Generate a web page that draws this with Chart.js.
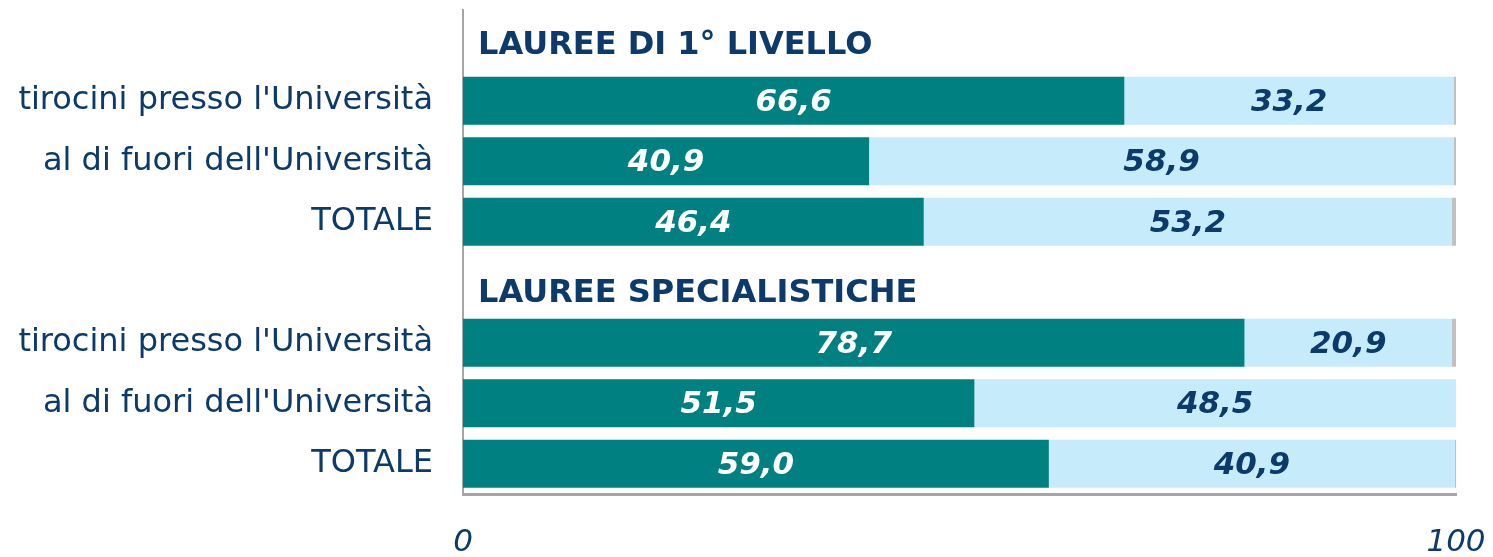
<!DOCTYPE html>
<html>
<head>
<meta charset="utf-8">
<script src="https://cdn.jsdelivr.net/npm/chart.js@4.4.1/dist/chart.umd.min.js"></script>
<style>
html,body{margin:0;padding:0;background:#fff;}
#wrap{width:1493px;height:557px;}
</style>
</head>
<body>
<div id="wrap"><canvas id="c" width="1493" height="557"></canvas></div>
<script>
const categories = ['', "tirocini presso l'Università", "al di fuori dell'Università", 'TOTALE',
                    '', "tirocini presso l'Università", "al di fuori dell'Università", 'TOTALE'];
const groupHeaders = ['LAUREE DI 1° LIVELLO', null, null, null, 'LAUREE SPECIALISTICHE', null, null, null];
const seriesA = [null, 66.6, 40.9, 46.4, null, 78.7, 51.5, 59.0];
const seriesB = [null, 33.2, 58.9, 53.2, null, 20.9, 48.5, 40.9];
const seriesMissing = [null, 0.2, 0.2, 0.4, null, 0.4, 0.0, 0.1];
const xTicks = [0, 100];

const TEXT = '#0B3A6B';
const FONT = "'DejaVu Sans', Verdana, sans-serif";

const fmt = v => v.toFixed(1).replace('.', ',');

const overlayPlugin = {
  id: 'overlay',
  afterDatasetsDraw(chart) {
    const ctx = chart.ctx;
    ctx.save();
    [0, 1].forEach(di => {
      const meta = chart.getDatasetMeta(di);
      const data = chart.data.datasets[di].data;
      meta.data.forEach((bar, i) => {
        const v = data[i];
        if (v === null || v === undefined) return;
        const p = bar.getProps(['x', 'base', 'y'], true);
        ctx.font = "italic bold 31px " + FONT;
        ctx.fillStyle = di === 0 ? '#ffffff' : TEXT;
        ctx.textAlign = 'center';
        ctx.textBaseline = 'middle';
        ctx.fillText(fmt(v), (p.x + p.base) / 2, p.y + 2);
      });
    });
    const ys = chart.scales.y;
    const xs = chart.scales.x;
    groupHeaders.forEach((h, i) => {
      if (!h) return;
      ctx.font = "bold 32px " + FONT;
      ctx.fillStyle = TEXT;
      ctx.textAlign = 'left';
      ctx.textBaseline = 'middle';
      ctx.fillText(h, xs.left + 15, ys.getPixelForValue(i) + (i === 0 ? 5 : 11));
    });
    ctx.restore();
  }
};

new Chart(document.getElementById('c'), {
  type: 'bar',
  data: {
    labels: categories,
    datasets: [
      { label: 'presso', data: seriesA, backgroundColor: '#008080', borderWidth: 0 },
      { label: 'fuori', data: seriesB, backgroundColor: '#C6ECFC', borderWidth: 0 },
      { label: 'mancanti', data: seriesMissing, backgroundColor: '#C0C0C0', borderWidth: 0 }
    ]
  },
  options: {
    indexAxis: 'y',
    responsive: false,
    animation: false,
    events: [],
    datasets: { bar: { barPercentage: 0.793, categoryPercentage: 1.0 } },
    layout: { padding: { left: 0, right: 37, top: 10, bottom: 0 } },
    plugins: { legend: { display: false }, tooltip: { enabled: false } },
    scales: {
      x: {
        stacked: true,
        min: 0, max: 100,
        afterBuildTicks: s => { s.ticks = xTicks.map(v => ({ value: v })); },
        grid: { display: false, drawTicks: false },
        border: { display: true, color: '#A6A6A6', width: 3 },
        ticks: { color: TEXT, font: { family: FONT, size: 31, style: 'italic' }, padding: 30, maxRotation: 0 },
        afterFit: s => { s.height = 557 - 494; s.paddingLeft = 0; s.paddingRight = 0; s.paddingTop = 0; s.paddingBottom = 0; }
      },
      y: {
        stacked: true,
        grid: { display: false, drawTicks: false },
        border: { display: true, color: '#A6A6A6', width: 2 },
        ticks: { color: TEXT, font: { family: FONT, size: 32 }, padding: 30, autoSkip: false },
        afterFit: s => { s.width = 463; s.paddingLeft = 0; s.paddingRight = 0; s.paddingTop = 0; s.paddingBottom = 0; }
      }
    }
  },
  plugins: [overlayPlugin]
});
</script>
</body>
</html>
